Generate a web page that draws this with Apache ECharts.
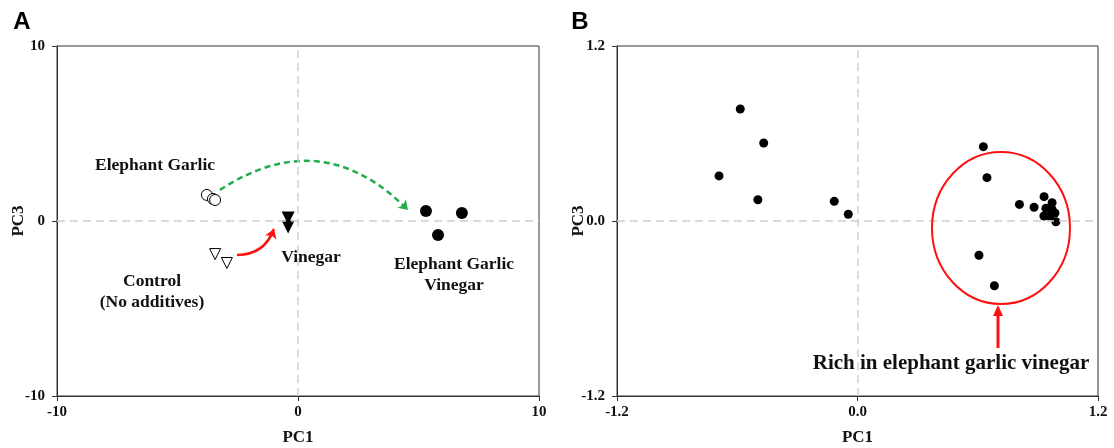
<!DOCTYPE html>
<html>
<head>
<meta charset="utf-8">
<script src="https://cdn.jsdelivr.net/npm/echarts@6/dist/echarts.min.js"></script>
<style>
  html, body { margin: 0; padding: 0; background: #fff; }
  #chart { width: 1114px; height: 448px; }
</style>
</head>
<body>
<div id="chart"></div>
<script>
// Panel A: PCA scores (PC1, PC3)
const garlicA = [[-3.78, 1.49], [-3.53, 1.26], [-3.44, 1.2]]
const vinegarA = [[-0.41, 0.17], [-0.41, -0.34]]
const controlA = [[-3.44, -1.89], [-2.95, -2.4]]
const egvA = [[5.31, 0.57], [6.8, 0.46], [5.81, -0.8]]
// annotation arrows (start, end) in PC units
const arrowGreen = [[-3.24, 1.77], [4.56, 0.63]]
const arrowRed = [[-2.53, -1.94], [-1.0, -0.46]]

// Panel B: loadings
const loadingsB = [
  [-0.585, 0.768], [-0.468, 0.535], [-0.691, 0.309], [-0.497, 0.146],
  [-0.116, 0.135], [-0.046, 0.046],
  [0.628, 0.51], [0.646, 0.297], [0.808, 0.114], [0.881, 0.094],
  [0.931, 0.167], [0.971, 0.126], [0.94, 0.087], [0.97, 0.082],
  [0.93, 0.034], [0.96, 0.034], [0.985, 0.055], [0.99, -0.005],
  [0.606, -0.235], [0.683, -0.444]
]

const ticksA = [-10, 0, 10]
const ticksB = [-1.2, 0, 1.2]

const serif = "'Liberation Serif', 'Times New Roman', serif"
const axisColor = "#333"

function valueAxis(gridIndex, ticks, name, isY) {
  return {
    type: "value",
    gridIndex: gridIndex,
    min: ticks[0],
    max: ticks[2],
    interval: ticks[2],
    name: name,
    nameLocation: "middle",
    nameGap: isY ? 30 : 33,
    nameMoveOverlap: false,
    nameTextStyle: { fontFamily: serif, fontWeight: "bold", fontSize: 17, color: "#111" },
    axisLine: { show: true, onZero: false, lineStyle: { color: axisColor, width: 1 } },
    axisTick: { show: true, inside: false, length: 5, lineStyle: { color: axisColor } },
    axisLabel: {
      fontFamily: serif, fontWeight: "bold", fontSize: 15, color: "#111",
      margin: isY ? 12 : 9,
      formatter: function (v) {
        if (ticks[2] < 5) return v === 0 ? "0.0" : v.toFixed(1)
        return String(v)
      }
    },
    splitLine: { show: false }
  }
}

const zeroLines = {
  silent: true,
  symbol: "none",
  label: { show: false },
  lineStyle: { color: "#cfcfcf", type: [8, 5], width: 1.5 },
  data: [{ xAxis: 0 }, { yAxis: 0 }]
}

const labelText = (x, y, text, align, size) => ({
  type: "text",
  x: x, y: y,
  style: {
    text: text, fontFamily: serif, fontWeight: "bold", fontSize: size || 17.5,
    fill: "#111", align: align || "center", verticalAlign: "middle"
  }
})

const chart = echarts.init(document.getElementById("chart"), null, { renderer: "canvas" })

chart.setOption({
  animation: false,
  grid: [
    { left: 57, top: 46, width: 482, height: 350, show: true, borderColor: axisColor, borderWidth: 1,
      containLabel: false, outerBoundsMode: "none" },
    { left: 617, top: 46, width: 481, height: 350, show: true, borderColor: axisColor, borderWidth: 1,
      containLabel: false, outerBoundsMode: "none" }
  ],
  xAxis: [valueAxis(0, ticksA, "PC1", false), valueAxis(1, ticksB, "PC1", false)],
  yAxis: [valueAxis(0, ticksA, "PC3", true), valueAxis(1, ticksB, "PC3", true)],
  series: [
    {
      type: "scatter", xAxisIndex: 0, yAxisIndex: 0, data: garlicA,
      symbol: "circle", symbolSize: 11,
      itemStyle: { color: "#fff", borderColor: "#000", borderWidth: 1, opacity: 1 },
      markLine: zeroLines
    },
    {
      type: "scatter", xAxisIndex: 0, yAxisIndex: 0, data: vinegarA,
      symbol: "triangle", symbolRotate: 180, symbolSize: 13,
      itemStyle: { color: "#000", opacity: 1 }
    },
    {
      type: "scatter", xAxisIndex: 0, yAxisIndex: 0, data: controlA,
      symbol: "triangle", symbolRotate: 180, symbolSize: 11,
      itemStyle: { color: "#fff", borderColor: "#000", borderWidth: 1, opacity: 1 }
    },
    {
      type: "scatter", xAxisIndex: 0, yAxisIndex: 0, data: egvA,
      symbol: "circle", symbolSize: 12,
      itemStyle: { color: "#000", opacity: 1 }
    },
    {
      type: "lines", coordinateSystem: "cartesian2d", xAxisIndex: 0, yAxisIndex: 0,
      symbol: ["none", "arrow"], symbolSize: 9,
      lineStyle: { color: "#1fae4b", width: 2.5, type: [6, 4], curveness: 0.41, opacity: 1 },
      data: [{ coords: arrowGreen }]
    },
    {
      type: "lines", coordinateSystem: "cartesian2d", xAxisIndex: 0, yAxisIndex: 0,
      symbol: ["none", "arrow"], symbolSize: 9,
      lineStyle: { color: "#ff1010", width: 2.5, curveness: -0.35, opacity: 1 },
      data: [{ coords: arrowRed }]
    },
    {
      type: "scatter", xAxisIndex: 1, yAxisIndex: 1, data: loadingsB,
      symbol: "circle", symbolSize: 9,
      itemStyle: { color: "#000", opacity: 1 },
      markLine: zeroLines
    }
  ],
  graphic: [
    { type: "text", x: 22, y: 22, style: { text: "A", fontFamily: "'Liberation Sans', Arial, sans-serif", fontWeight: "bold", fontSize: 24, fill: "#000", align: "center", verticalAlign: "middle" } },
    { type: "text", x: 580, y: 22, style: { text: "B", fontFamily: "'Liberation Sans', Arial, sans-serif", fontWeight: "bold", fontSize: 24, fill: "#000", align: "center", verticalAlign: "middle" } },
    labelText(95, 165, "Elephant Garlic", "left"),
    labelText(311, 257, "Vinegar"),
    labelText(152, 281, "Control"),
    labelText(152, 302, "(No additives)"),
    labelText(454, 264, "Elephant Garlic"),
    labelText(454, 285, "Vinegar"),
    { type: "ellipse", shape: { cx: 1001, cy: 228, rx: 69, ry: 76 }, style: { fill: "none", stroke: "#ff1010", lineWidth: 2 }, z: 10 },
    { type: "line", shape: { x1: 998, y1: 348, x2: 998, y2: 314 }, style: { stroke: "#ff1010", lineWidth: 3 }, z: 10 },
    { type: "polygon", shape: { points: [[998, 305], [993, 316], [1003, 316]] }, style: { fill: "#ff1010" }, z: 10 },
    labelText(951, 364, "Rich in elephant garlic vinegar", "center", 21)
  ]
})
</script>
</body>
</html>
